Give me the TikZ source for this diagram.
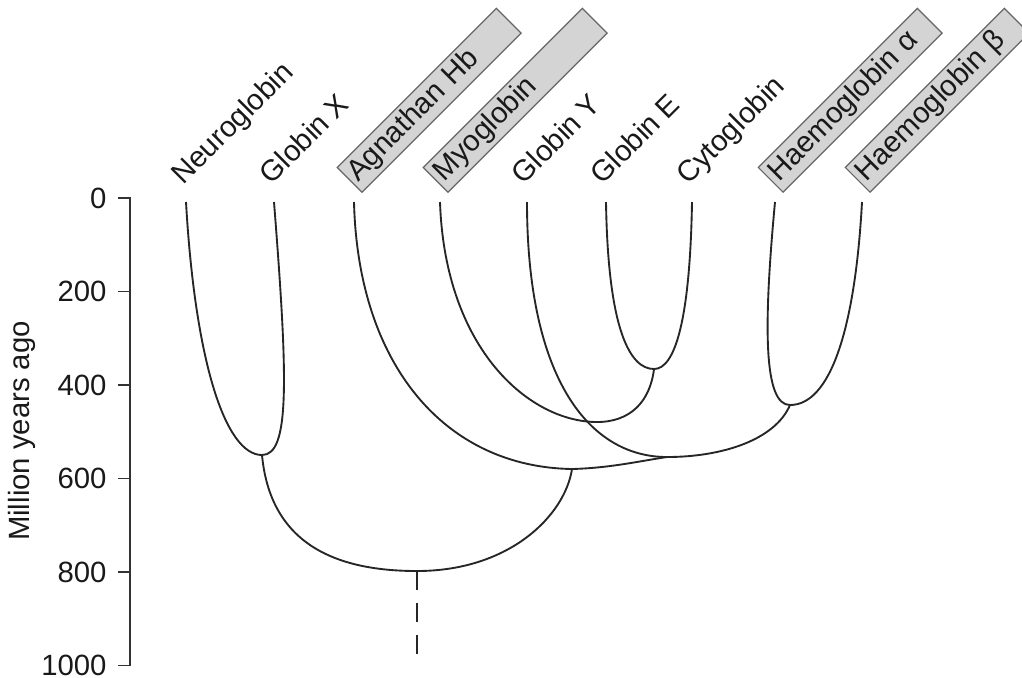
\documentclass[tikz,border=0pt]{standalone}
\usepackage{fontspec}
\setmainfont{Liberation Sans}
\usepackage{tikz}
\usepackage{xcolor}

\begin{document}
\begin{tikzpicture}[x=0.015cm,y=-0.015cm,
  branch/.style={line width=0.8pt,draw=black!85},
  axisline/.style={line width=0.75pt,draw=black!80},
  leaflabel/.style={rotate=45,anchor=base west,inner sep=0pt,text=black!90,font=\fontsize{12.5}{14}\selectfont},
  boxlabel/.style={rotate=45,anchor=south west,draw=black!60,fill=black!17,line width=0.5pt,
    minimum height=0.525cm,text width=3.245cm,inner xsep=0.065cm,inner ysep=0pt,align=left,
    text=black!90,font=\fontsize{12.5}{14}\selectfont},
  ticklabel/.style={anchor=east,inner sep=0pt,text=black!90,font=\fontsize{12.5}{14}\selectfont}]
\useasboundingbox (0,0) rectangle (1022,677);

%%%AXIS
\draw[axisline] (118,198) -- (130,198) -- (130,665.5) -- (118,665.5);
\foreach \v in {200,400,...,800}
  \draw[axisline] (118,{198+0.4675*\v}) -- (130,{198+0.4675*\v});
\foreach \v in {0,200,...,1000}
  \node[ticklabel] (tick\v) at (107,{198+0.4675*\v}) {\v};
\node[rotate=90,text=black!90,font=\fontsize{12.5}{14}\selectfont] (axistitle) at (22,431) {Million years ago};

%%%LEAVES
\coordinate (neuro) at (186,202);
\coordinate (globx) at (274,202);
\coordinate (agnhb) at (354,202);
\coordinate (myo)   at (440,202);
\coordinate (globy) at (527,202);
\coordinate (globe) at (606,202);
\coordinate (cyto)  at (692,202);
\coordinate (hba)   at (775,202);
\coordinate (hbb)   at (862,202);

\node[leaflabel] (lneuro) at (183,186) {Neuroglobin};
\node[leaflabel] (lglobx) at (271,186) {Globin X};
\node[boxlabel]  (lagnhb) at (362,193) {Agnathan Hb};
\node[boxlabel]  (lmyo)   at (448,193) {Myoglobin};
\node[leaflabel] (lgloby) at (523,186) {Globin Y};
\node[leaflabel] (lglobe) at (602,186) {Globin E};
\node[leaflabel] (lcyto)  at (688,186) {Cytoglobin};
\node[boxlabel]  (lhba)   at (783,193) {Haemoglobin α};
\node[boxlabel]  (lhbb)   at (870,193) {Haemoglobin β};

%%%SPLITS
\coordinate (ng)   at (262,455);
\coordinate (root) at (417,571);
\coordinate (stem) at (417,654);
\coordinate (ag)   at (572,469);
\coordinate (hy)   at (667,457);
\coordinate (my)   at (597,422);
\coordinate (ec)   at (654,369);
\coordinate (hh)   at (790,405);

%%%BRANCHES
\draw[branch] (neuro) .. controls (195,360) and (225,455) .. (ng);
\draw[branch] (globx) .. controls (288,380) and (290,455) .. (ng);
\draw[branch] (ng) .. controls (270,540) and (330,571) .. (root);
\draw[branch] (root) .. controls (510,571) and (565,515) .. (ag);
\draw[branch] (agnhb) .. controls (358,365) and (445,467) .. (ag);
\draw[branch] (ag) .. controls (610,468) and (640,461) .. (hy);
\draw[branch] (hh) .. controls (775,440) and (722,457) .. (hy);
\draw[branch] (globy) .. controls (527,380) and (590,457) .. (hy);
\draw[branch] (myo) .. controls (445,350) and (530,422) .. (my);
\draw[branch] (ec) .. controls (650,402) and (630,422) .. (my);
\draw[branch] (globe) .. controls (608,330) and (630,369) .. (ec);
\draw[branch] (cyto) .. controls (690,320) and (675,369) .. (ec);
\draw[branch] (hba) .. controls (763,330) and (764,405) .. (hh);
\draw[branch] (hbb) .. controls (855,330) and (830,405) .. (hh);
\draw[branch,dash pattern=on 0.285cm off 0.195cm] (root) -- (stem);
\end{tikzpicture}
\end{document}
